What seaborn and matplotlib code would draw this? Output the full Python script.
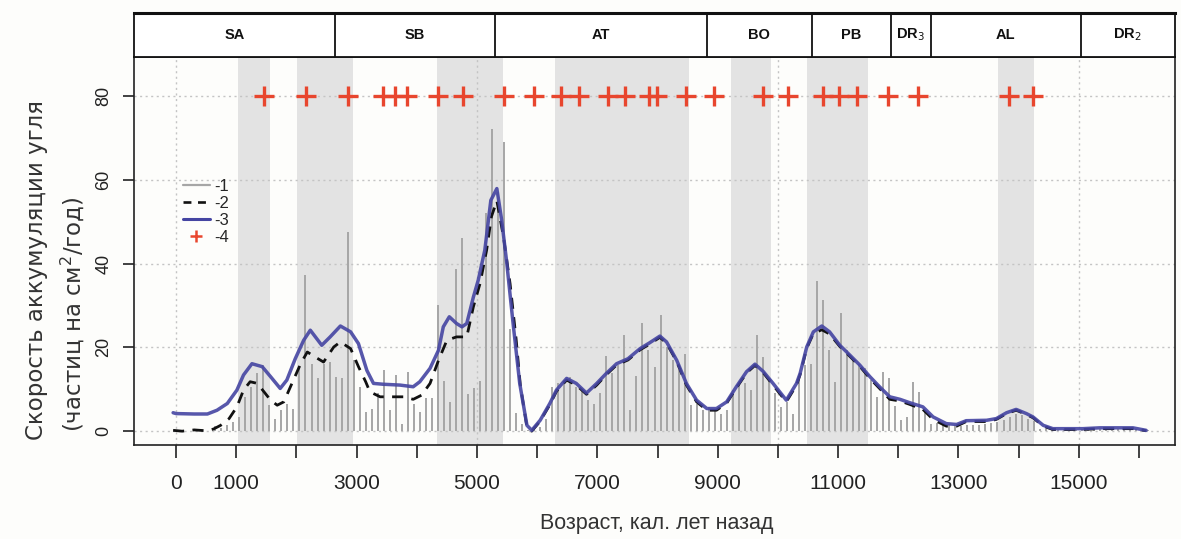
import numpy as np
import pandas as pd
import matplotlib
matplotlib.use("Agg")
import matplotlib.pyplot as plt
import seaborn as sns
from matplotlib.lines import Line2D

# ---------------- data ----------------
bar_years = list(range(650, 16200, 100))
bar_values = [
    1.2, 0.8, 1.5, 2.2, 3.5, 8.2, 10.6, 13.8, 15.8, 6.2,
    3.0, 5.0, 6.6, 5.4, 15.0, 37.2, 16.0, 12.6, 16.0, 16.5,
    13.0, 12.6, 47.6, 17.0, 10.6, 4.6, 5.4, 9.0, 14.7, 5.0,
    13.4, 1.8, 14.2, 6.6, 4.6, 7.8, 8.0, 30.0, 12.0, 7.0,
    38.6, 46.0, 8.8, 10.2, 12.0, 52.0, 72.0, 57.0, 69.0, 24.5,
    4.4, 1.8, 0.2, 0.5, 1.0, 3.0, 10.6, 11.4, 12.2, 13.0,
    10.6, 10.0, 7.4, 6.4, 9.0, 17.9, 13.8, 15.8, 23.0, 5.0,
    13.1, 25.7, 19.3, 15.2, 27.8, 20.1, 17.1, 14.6, 18.4, 6.2,
    6.6, 5.0, 5.8, 5.4, 4.2, 5.0, 9.8, 11.0, 11.5, 9.9,
    22.9, 17.7, 12.6, 9.0, 5.8, 7.0, 4.2, 13.0, 15.8, 16.0,
    35.9, 31.4, 19.3, 11.8, 28.3, 19.3, 17.0, 16.1, 15.0, 12.2,
    8.2, 14.2, 12.8, 6.0, 2.6, 3.4, 11.8, 9.4, 5.0, 1.8,
    2.0, 1.7, 1.8, 1.4, 1.2, 1.4, 1.4, 1.4, 1.8, 2.0,
    2.2, 2.6, 3.4, 4.2, 3.8, 3.0, 2.5, 0.6, 0.5, 0.4,
    0.3, 0.4, 0.5, 0.3, 0.6, 0.5, 0.4, 0.6, 0.7, 0.5,
    0.6, 0.5, 0.7, 0.6, 0.4, 0.3,
]

blue_years = [
    -50, 0, 300, 520, 680, 850, 1010, 1120, 1260, 1430, 1570, 1730, 1840, 1980,
    2120, 2230, 2420, 2560, 2730, 2900, 3030, 3170, 3280, 3440, 3720, 3940, 4050,
    4220, 4360, 4440, 4540, 4660, 4750, 4830, 4940, 5020, 5130, 5230, 5330, 5410,
    5490, 5600, 5710, 5830, 5910, 6050, 6210, 6320, 6490, 6650, 6820, 6990, 7150,
    7320, 7510, 7710, 7870, 8040, 8150, 8320, 8480, 8650, 8820, 8980, 9150, 9310,
    9480, 9620, 9760, 9920, 10140, 10310, 10370, 10480, 10590, 10730, 10860, 11030,
    11200, 11360, 11530, 11690, 11860, 12030, 12190, 12410, 12580, 12800, 12970,
    13130, 13470, 13630, 13800, 13960, 14130, 14240, 14410, 14570, 15070, 15350,
    15900, 16120,
]
blue_values = [
    4.4, 4.2, 4.1, 4.1, 5.0, 6.6, 9.8, 13.4, 16.1, 15.4, 13.0, 10.2, 12.2, 17.3,
    21.7, 24.1, 20.5, 22.5, 25.1, 23.7, 20.9, 14.5, 11.4, 11.2, 11.0, 10.6, 11.8,
    15.0, 19.3, 24.9, 27.3, 25.7, 24.9, 25.7, 32.0, 36.0, 43.2, 55.1, 57.9, 50.4,
    40.8, 25.7, 11.4, 1.4, 0.2, 2.6, 6.6, 9.8, 12.6, 11.4, 9.1, 11.4, 13.8,
    16.1, 17.3, 19.7, 21.1, 22.7, 21.3, 16.9, 11.4, 7.4, 5.4, 5.4, 7.0, 10.6,
    14.2, 16.0, 14.2, 11.4, 7.4, 11.4, 13.8, 20.1, 23.7, 25.1, 23.7, 20.5,
    18.1, 15.8, 13.0, 10.6, 8.2, 7.6, 6.8, 5.8, 3.4, 1.8, 1.6,
    2.5, 2.6, 3.0, 4.4, 5.2, 4.2, 3.4, 1.4, 0.6, 0.6, 0.8,
    0.8, 0.2,
]

dash_years = [
    -50, 100, 300, 500, 620, 740, 880, 1010, 1120, 1230, 1350, 1460, 1570, 1680,
    1790, 1900, 2070, 2180, 2310, 2450, 2620, 2730, 2900, 3030, 3150, 3220, 3390,
    3610, 3780, 3940, 4080, 4220, 4360, 4500, 4660, 4830, 4940, 5050, 5160, 5240,
    5330, 5440, 5550, 5650, 5720, 5830, 5910, 6050, 6210, 6320, 6490, 6650, 6820,
    6990, 7150, 7320, 7510, 7710, 7870, 8040, 8150, 8320, 8480, 8650, 8820, 8980,
    9150, 9310, 9480, 9620, 9760, 9920, 10140, 10310, 10370, 10480, 10590, 10730,
    10860, 11030, 11200, 11360, 11530, 11690, 11860, 12030, 12190, 12410, 12580,
    12800, 12970, 13130, 13470, 13630, 13800, 13960, 14130, 14240, 14410, 14570,
    15070, 15350, 15900, 16120,
]
dash_values = [
    0.2, 0.0, 0.3, 0.1, 0.5, 1.4, 3.0, 5.8, 9.8, 11.8, 11.4, 9.4, 7.4, 6.2,
    7.0, 10.6, 16.1, 18.9, 17.7, 16.5, 20.1, 21.3, 19.7, 15.4, 11.8, 9.4, 8.2,
    8.2, 8.2, 7.6, 8.6, 11.4, 16.9, 21.7, 22.5, 22.5, 29.7, 35.2, 43.2, 51.2,
    55.0, 46.4, 35.2, 22.0, 11.0, 1.0, 0.0, 2.4, 6.3, 9.5, 12.2, 11.0, 8.8,
    11.0, 13.5, 15.8, 17.0, 19.4, 20.8, 22.4, 21.0, 16.6, 11.0, 7.0, 5.0, 5.0,
    6.7, 10.3, 13.9, 15.7, 13.9, 11.0, 7.0, 11.0, 13.5, 19.8, 23.3, 24.2,
    23.2, 20.2, 17.8, 15.5, 12.6, 10.2, 7.6, 7.2, 6.4, 5.2, 2.8,
    1.2, 1.2, 2.3, 2.3, 2.8, 4.2, 5.0, 4.0, 3.2, 1.2, 0.4,
    0.4, 0.6, 0.6, 0.1,
]

plus_years = [1460, 2160, 2860, 3440, 3640, 3840, 4350, 4770, 5450, 5950, 6400,
              6690, 7180, 7460, 7860, 7990, 8470, 8940, 9750, 10170, 10750, 11010,
              11310, 11830, 12330, 13840, 14240]
plus_value = 80

band_starts = [1030, 2010, 4336, 6296, 9219, 10482, 13654]
band_ends = [1561, 2940, 5432, 8522, 9884, 11495, 14252]

period_bounds = [-700, 2640, 5300, 8820, 10560, 11880, 12540, 15030, 16600]
period_labels = ["SA", "SB", "AT", "BO", "PB", "DR$_3$", "AL", "DR$_2$"]

xtick_vals = list(range(0, 17000, 1000))
xtick_labels = ["0", "1000", "", "3000", "", "5000", "", "7000", "", "9000", "",
                "11000", "", "13000", "", "15000", ""]
ytick_vals = [0, 20, 40, 60, 80]
legend_labels = ["-1", "-2", "-3", "-4"]

# ---------------- style ----------------
sns.set_theme(style="white")
plt.rcParams["font.family"] = ["Liberation Sans", "DejaVu Sans"]
BG = "#fdfdfb"

W, H = 1181, 539
fig = plt.figure(figsize=(W / 100, H / 100), dpi=100, facecolor=BG)

L, R = 134 / W, 1175 / W
B, T = 1 - 445 / H, 1 - 57 / H
ax = fig.add_axes([L, B, R - L, T - B], facecolor=BG)
axp = fig.add_axes([L, T, R - L, (57 - 13) / H], facecolor="white")

XMIN, XMAX = -700, 16600
ax.set_xlim(XMIN, XMAX)
ax.set_ylim(-3.3, 89.3)

# shaded bands
for s, e in zip(band_starts, band_ends):
    ax.axvspan(s, e, color="#e3e3e3", lw=0, zorder=0)

# grid
for yv in ytick_vals:
    ax.axhline(yv, color="#c4c4c4", lw=1.0, ls=(0, (1.5, 2.5)), zorder=1)
for xv in [0, 5000, 10000, 15000]:
    ax.axvline(xv, color="#c4c4c4", lw=1.0, ls=(0, (1.5, 2.5)), zorder=1)

# bars (type 'h')
df_bar = pd.DataFrame({"year": bar_years, "value": bar_values})
ax.vlines(df_bar["year"], 0, df_bar["value"], color="#a6a6a6", lw=1.4, zorder=2)

# curves
df_dash = pd.DataFrame({"year": dash_years, "value": dash_values})
df_blue = pd.DataFrame({"year": blue_years, "value": blue_values})
sns.lineplot(data=df_dash, x="year", y="value", ax=ax, color="#111111", lw=2.0,
             sort=False, estimator=None, zorder=3)
ax.lines[-1].set_dashes((4, 3))
sns.lineplot(data=df_blue, x="year", y="value", ax=ax, color="#4545a2", lw=2.5,
             sort=False, estimator=None, zorder=4, alpha=0.9)

df_plus = pd.DataFrame({"year": plus_years, "value": [plus_value] * len(plus_years)})
sns.scatterplot(data=df_plus, x="year", y="value", ax=ax, marker="+", s=190,
                color="#e8462e", linewidth=2.4, zorder=5)

# axes cosmetics
for sp in ax.spines.values():
    sp.set_visible(True)
    sp.set_color("#222222")
    sp.set_linewidth(1.2)
ax.set_xticks(xtick_vals)
ax.set_xticklabels(xtick_labels)
ax.set_yticks(ytick_vals)
ax.set_yticklabels([str(v) for v in ytick_vals], rotation=90, va="center")
ax.tick_params(axis="x", direction="out", length=9, width=1.2, color="#222222",
               pad=12, labelsize=15, labelcolor="#222222", bottom=True)
ax.tick_params(axis="y", direction="out", length=8, width=1.2, color="#222222",
               pad=7.5, labelsize=13, labelcolor="#222222", left=True)
ax.set_xlabel("")
ax.set_ylabel("")

# legend
handles = [
    Line2D([], [], color="#a6a6a6", lw=1.6),
    Line2D([], [], color="#111111", lw=1.9, dashes=(3, 2.5)),
    Line2D([], [], color="#4545a2", lw=2.2),
    Line2D([], [], color="#e8462e", marker="+", ls="none", markersize=9, mew=1.8),
]
ax.legend(handles, legend_labels, loc="upper left", bbox_to_anchor=(0.047, 0.685),
          frameon=False, fontsize=12, handlelength=1.6, handletextpad=0.3,
          labelspacing=0.12, borderpad=0, borderaxespad=0)

# labels
fig.text(0.5 * (518 + 795) / W, 1 - 524 / H, "Возраст, кал. лет назад",
         ha="center", va="center", fontsize=15.5, color="#333333")
fig.text(37 / W, 1 - 440 / H, "Скорость аккумуляции угля", rotation=90,
         ha="center", va="bottom", fontsize=16.5, color="#333333",
         family=["DejaVu Sans"])
fig.text(72 / W, 1 - 432 / H, "(частиц на см$^2$/год)", rotation=90,
         ha="center", va="bottom", fontsize=16.5, color="#333333",
         family=["DejaVu Sans"])

# period bar
axp.set_xlim(XMIN, XMAX)
axp.set_ylim(0, 1)
axp.set_xticks([])
axp.set_yticks([])
for name, sp in axp.spines.items():
    sp.set_visible(True)
    sp.set_color("#111111")
    sp.set_linewidth(2.2 if name == "top" else 1.3)
for xb in period_bounds[1:-1]:
    axp.axvline(xb, color="#111111", lw=1.3)
for i, lab in enumerate(period_labels):
    xc = 0.5 * (period_bounds[i] + period_bounds[i + 1])
    axp.text(xc, 0.5, lab, ha="center", va="center", fontsize=10.5,
             fontweight="bold", color="#111111")

fig.savefig("out.png", dpi=100, facecolor=BG)
